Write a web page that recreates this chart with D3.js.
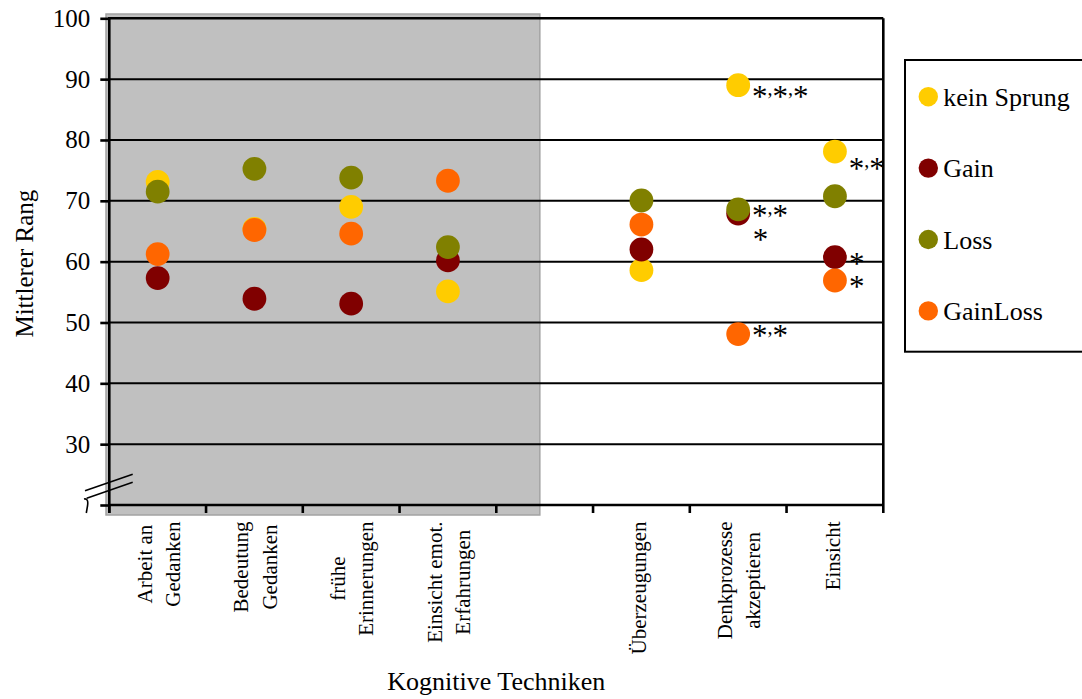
<!DOCTYPE html>
<html>
<head>
<meta charset="utf-8">
<script src="https://cdn.jsdelivr.net/npm/d3@7"></script>
<style>
  body { margin: 0; background: #fff; }
  svg { display: block; }
  text { font-family: "Liberation Serif", "Times New Roman", serif; fill: #000; }
</style>
</head>
<body>
<svg id="chart" width="1082" height="699"></svg>
<script>
// Mean ranks per cognitive technique, split by symptom-jump group
const categories = [
  "Arbeit an\nGedanken",
  "Bedeutung\nGedanken",
  "frühe\nErinnerungen",
  "Einsicht emot.\nErfahrungen",
  "",
  "Überzeugungen",
  "Denkprozesse\nakzeptieren",
  "Einsicht"
];
const seriesNames = ["kein Sprung", "Gain", "Loss", "GainLoss"];
const keinSprung = [73.1, 65.4, 69.0, 55.1, null, 58.6, 89.0, 78.1];
const gain       = [57.3, 53.9, 53.1, 60.2, null, 62.0, 67.9, 60.75];
const loss       = [71.5, 75.25, 73.8, 62.4, null, 70.05, 68.6, 70.75];
const gainLoss   = [61.25, 65.2, 64.6, 73.3, null, 66.1, 48.1, 56.9];
const yTicks = [20, 30, 40, 50, 60, 70, 80, 90, 100];
const yTickLabels = ["", "30", "40", "50", "60", "70", "80", "90", "100"];
const yTitle = "Mittlerer Rang";
const xTitle = "Kognitive Techniken";

// significance markers: category index, series, marker text
const sigCat    = [6, 6, 6, 6, 7, 7, 7];
const sigSeries = ["kein Sprung", "Loss", "Gain", "GainLoss", "kein Sprung", "Gain", "GainLoss"];
const sigText   = ["*,*,*", "*,*", "*", "*,*", "*,*", "*", "*"];

const seriesValues = [keinSprung, gain, loss, gainLoss];
const colors = ["#FFCC00", "#800000", "#808000", "#FF6600"];

const svg = d3.select("#chart");
const X0 = 109.3, X1 = 883.3, Y0 = 505, Y1 = 18.3;
const SERIF = '"Liberation Serif", "Times New Roman", serif';

const x = d3.scaleBand().domain(d3.range(categories.length)).range([X0, X1]);
const bw = x.bandwidth();
const cx = i => x(i) + bw / 2;
const y = d3.scaleLinear().domain([yTicks[0], yTicks[yTicks.length - 1]]).range([Y0, Y1]);
const color = d3.scaleOrdinal().domain(seriesNames).range(colors);

// shaded block behind the first group of techniques
svg.append("rect")
  .attr("x", X0 - 3.3).attr("y", Y1 - 4.3)
  .attr("width", x(4) + 0.45 * bw - (X0 - 3.3))
  .attr("height", Y0 + 10 - (Y1 - 4.3))
  .attr("fill", "#c0c0c0")
  .attr("stroke", "#a3a3a3").attr("stroke-width", 1.5);

// horizontal gridlines
svg.append("g").selectAll("line")
  .data(yTicks.filter(v => v > yTicks[0] && v < yTicks[yTicks.length - 1]))
  .join("line")
  .attr("x1", X0).attr("x2", X1)
  .attr("y1", d => y(d)).attr("y2", d => y(d))
  .attr("stroke", "#000").attr("stroke-width", 2);

// frame: top, right, bottom axis, left axis
const frame = svg.append("g").attr("stroke", "#000").attr("stroke-width", 2.6);
frame.append("line").attr("x1", X0).attr("x2", X1).attr("y1", Y1).attr("y2", Y1);
frame.append("line").attr("x1", X1).attr("x2", X1).attr("y1", Y1).attr("y2", Y0);
frame.append("line").attr("x1", X0).attr("x2", X1).attr("y1", Y0).attr("y2", Y0);
frame.append("line").attr("x1", X0).attr("x2", X0).attr("y1", Y1 - 1.3).attr("y2", Y0 + 8);

// y axis ticks and labels
const yAxis = d3.axisLeft(y)
  .tickValues(yTicks)
  .tickSize(9)
  .tickPadding(10)
  .tickFormat((d, i) => yTickLabels[i]);
const ya = svg.append("g").attr("transform", `translate(${X0},0)`).call(yAxis);
ya.attr("font-family", null).attr("font-size", null);
ya.select(".domain").remove();
ya.selectAll(".tick line").attr("stroke", "#000").attr("stroke-width", 2.6);
ya.selectAll(".tick text")
  .style("font-family", SERIF)
  .style("font-size", "25px").attr("fill", "#000");

// x axis ticks between categories
const bounds = d3.range(categories.length).map(i => x(i)).concat([X1]);
svg.append("g").selectAll("line").data(bounds).join("line")
  .attr("x1", d => d).attr("x2", d => d)
  .attr("y1", Y0).attr("y2", Y0 + 8)
  .attr("stroke", "#000").attr("stroke-width", 2.6);

// axis break marks
const brk = svg.append("g").attr("stroke", "#000").attr("stroke-width", 1.6).attr("fill", "none");
brk.append("line").attr("x1", X0 - 24.3).attr("y1", Y0 - 14.3).attr("x2", X0 + 23.4).attr("y2", Y0 - 30.7);
brk.append("line").attr("x1", X0 - 22.6).attr("y1", Y0 - 6.7).attr("x2", X0 + 23.4).attr("y2", Y0 - 22.7);
brk.append("path")
  .attr("d", `M${X0 - 25.3},${Y0 - 6} Q${X0 - 20.5},${Y0 - 7} ${X0 - 21.8},${Y0 + 1} L${X0 - 23},${Y0 + 8}`);

// category labels, rotated, lines centred on each other
categories.forEach((c, i) => {
  if (!c) return;
  const lines = c.split("\n");
  const n = lines.length;
  const g = svg.append("g");
  const texts = lines.map(ln => g.append("text")
    .attr("text-anchor", "middle")
    .style("font-size", "21px")
    .text(ln));
  const maxLen = d3.max(texts, t => t.node().getComputedTextLength());
  const blockCenter = Y0 + 16.5 + maxLen / 2;
  texts.forEach((t, j) => {
    const bx = cx(i) + 5 + (n - 1) * 3 + (j - (n - 1) / 2) * 28.3;
    t.attr("transform", `translate(${bx},${blockCenter}) rotate(-90)`);
  });
});

// axis titles
svg.append("text")
  .attr("transform", `translate(32.5,${(y(75) + y(45)) / 2 + 2}) rotate(-90)`)
  .attr("text-anchor", "middle")
  .style("font-size", "25px")
  .text(yTitle);
svg.append("text")
  .attr("x", (X0 + X1) / 2).attr("y", 690)
  .attr("text-anchor", "middle")
  .style("font-size", "26px")
  .text(xTitle);

// points, one layer per series
seriesNames.forEach((s, k) => {
  svg.append("g").selectAll("circle")
    .data(seriesValues[k].map((v, i) => ({ i, v })).filter(d => d.v != null))
    .join("circle")
    .attr("cx", d => cx(d.i))
    .attr("cy", d => y(d.v))
    .attr("r", 11.9)
    .attr("fill", color(s));
});

// significance markers next to the points: large stars, small raised commas
const sigOffset = [[15.7, 7], [15.7, 1.7], [16.5, 21], [15.7, -3], [15.7, 12], [16, 1.6], [16, 1.7]];
sigText.forEach((t, k) => {
  const si = seriesNames.indexOf(sigSeries[k]);
  const v = seriesValues[si][sigCat[k]];
  const midY = y(v) + sigOffset[k][1];
  const txt = svg.append("text")
    .attr("x", cx(sigCat[k]) + sigOffset[k][0] - 2);
  t.split("").forEach(ch => {
    if (ch === "*") {
      txt.append("tspan").attr("y", midY + 15).style("font-size", "31px").text(ch);
    } else {
      txt.append("tspan").attr("y", midY + 3).style("font-size", "20px").text(ch);
    }
  });
});

// legend
const lg = svg.append("g");
lg.append("rect")
  .attr("x", 905).attr("y", 60).attr("width", 200).attr("height", 291.7)
  .attr("fill", "#fff").attr("stroke", "#000").attr("stroke-width", 2);
seriesNames.forEach((s, k) => {
  const ly = 96.7 + k * 71.4;
  lg.append("circle").attr("cx", 928.3).attr("cy", ly).attr("r", 9.7).attr("fill", color(s));
  lg.append("text").attr("x", 943.3).attr("y", ly + 9).style("font-size", "26px").text(s);
});
</script>
</body>
</html>
